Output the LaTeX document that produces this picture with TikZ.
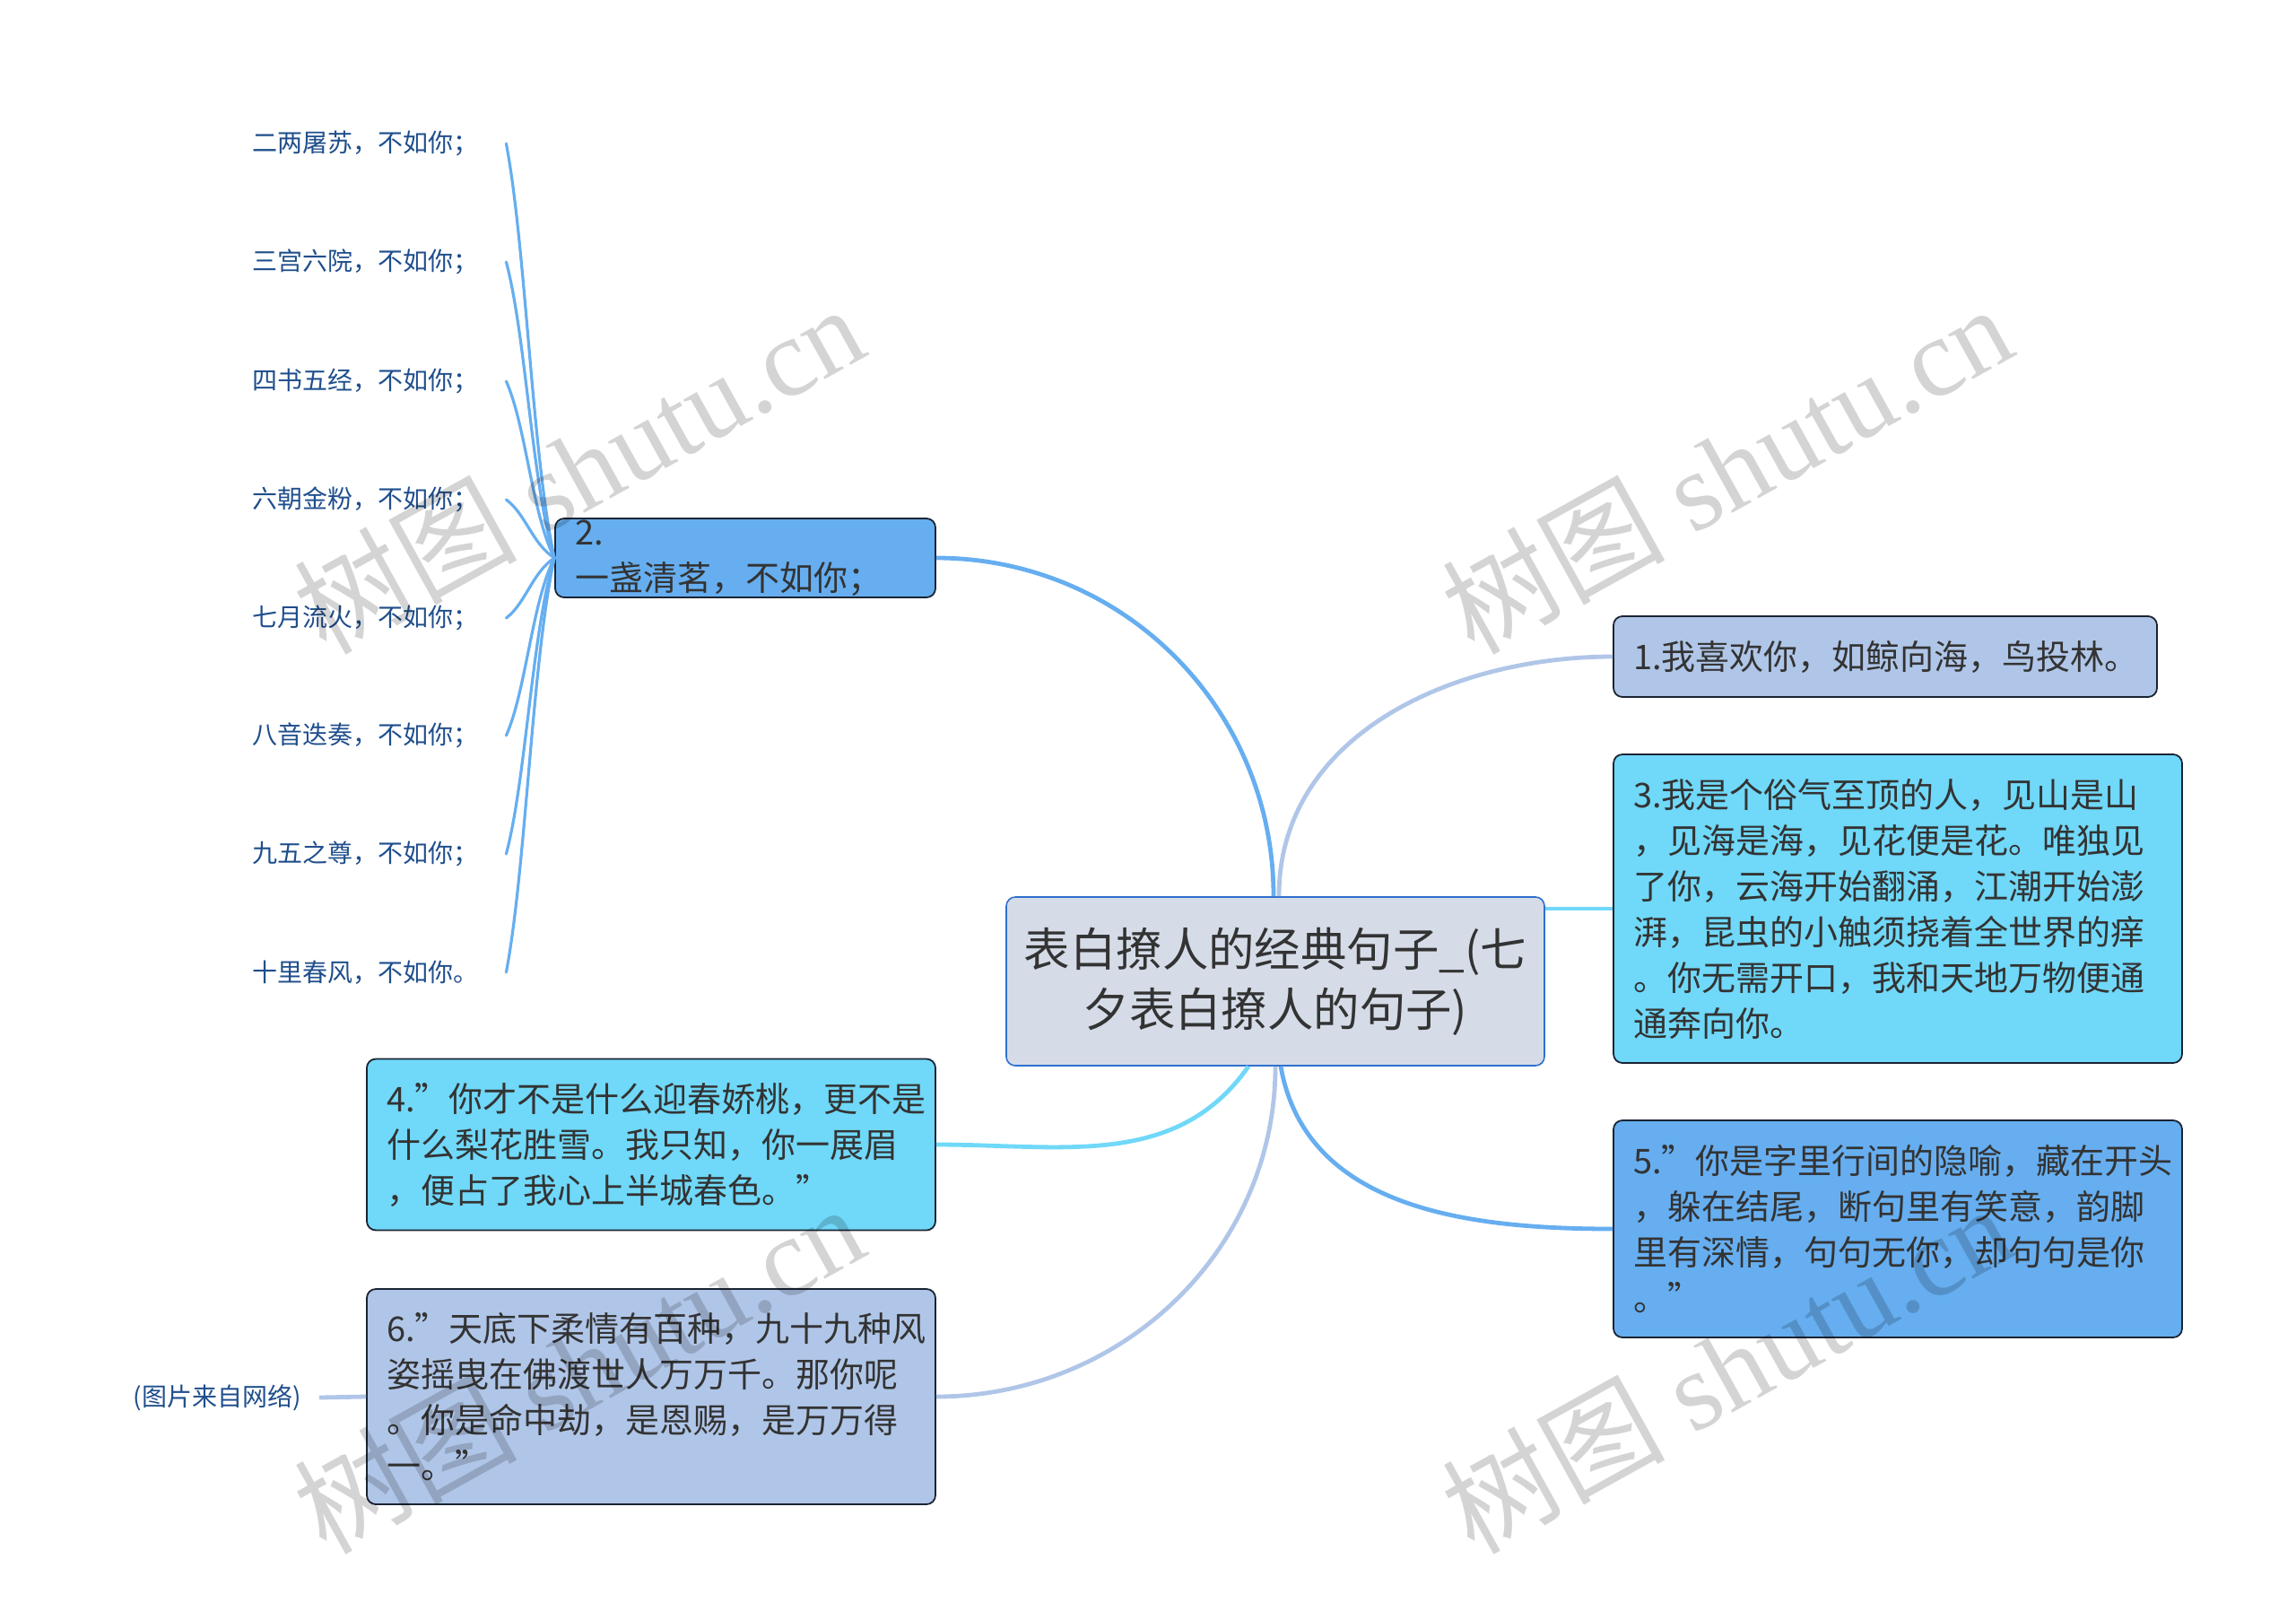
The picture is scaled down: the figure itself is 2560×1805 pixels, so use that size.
\documentclass[tikz,border=0pt]{standalone}
\usepackage{fontspec}
\usepackage{xcolor}
\setmainfont{Noto Sans CJK SC}
\newfontfamily\markfont{Liberation Serif}
\usetikzlibrary{positioning}
\definecolor{rootfill}{HTML}{D5DCE8}
\definecolor{rootline}{HTML}{2F6FCF}
\definecolor{pale}{HTML}{B0C6E8}
\definecolor{sky}{HTML}{70D8F8}
\definecolor{azure}{HTML}{66AEF0}
\definecolor{boxline}{HTML}{1A2433}
\definecolor{leaftext}{HTML}{1F4E8C}
\definecolor{bodytext}{HTML}{333333}
\tikzset{
rootbox/.style={draw=rootline,line width=0.8pt,fill=rootfill,rounded corners=5pt,align=center,text=bodytext,
  font=\fontsize{25.7}{33.5}\selectfont,text width=300pt,minimum height=94pt,inner sep=0pt},
topic/.style={draw=boxline,line width=0.9pt,rounded corners=5pt,align=left,text=bodytext,
  font=\fontsize{19}{25.5}\selectfont,inner xsep=11pt,inner ysep=0pt},
leaf/.style={align=left,text=leaftext,font=\fontsize{14}{17}\selectfont,inner sep=0pt},
link/.style={line width=2.4pt},
twig/.style={line width=1.6pt,color=azure,line cap=round},
wmark/.style={text=black,text opacity=0.17,rotate=29,font=\markfont\fontsize{62}{70}\selectfont,inner sep=0pt}
}
\begin{document}
\begin{tikzpicture}[x=0.5pt,y=-0.5pt]
\useasboundingbox (0,0) rectangle (2560,1805);
\node[rootbox] (root) at (1422,1094) {表白撩人的经典句子\_(七\\夕表白撩人的句子)};
\node[topic,fill=pale,text width=281pt,minimum height=45pt] (n1) at (2102,732) {1.我喜欢你，如鲸向海，鸟投林。};
\node[topic,fill=azure,text width=190pt,minimum height=44pt] (n2) at (831,622) {2. 一盏清茗，不如你；};
\node[topic,fill=sky,text width=295pt,minimum height=172pt] (n3) at (2116,1013) {3.我是个俗气至顶的人，见山是山\\，见海是海，见花便是花。唯独见\\了你，云海开始翻涌，江潮开始澎\\湃，昆虫的小触须挠着全世界的痒\\。你无需开口，我和天地万物便通\\通奔向你。};
\node[topic,fill=sky,text width=295pt,minimum height=95.5pt] (n4) at (726,1276) {4."你才不是什么迎春娇桃，更不是\\什么梨花胜雪。我只知，你一展眉\\，便占了我心上半城春色。"};
\node[topic,fill=azure,text width=295pt,minimum height=121pt] (n5) at (2116,1370) {5."你是字里行间的隐喻，藏在开头\\，躲在结尾，断句里有笑意，韵脚\\里有深情，句句无你，却句句是你\\。"};
\node[topic,fill=pale,text width=295pt,minimum height=120pt] (n6) at (726,1557) {6."天底下柔情有百种，九十九种风\\姿摇曳在佛渡世人万万千。那你呢\\。你是命中劫，是恩赐，是万万得\\一。"};
\node[leaf] (photo) at (242,1558) {(图片来自网络)};
\coordinate (photoend) at (356,1558);
\draw[link,color=pale] ([xshift=2pt]root.north) to[out=90,in=180] (n1.west);
\draw[link,color=azure] ([xshift=-1pt]root.north) to[out=90,in=0] (n2.east);
\draw[link,color=sky] (n3.west) -- (n3.west -| root.east);
\draw[link,color=sky] ([xshift=-15pt]root.south) to[out=-125,in=0] (n4.east);
\draw[link,color=azure] ([xshift=3pt]root.south) to[out=-80,in=180] (n5.west);
\draw[link,color=pale] (root.south) to[out=-90,in=0] (n6.east);
\draw[link,color=pale] (photoend) -- (n6.west);
\foreach \y/\txt [count=\i] in {160/二两屠苏，不如你；,292/三宫六院，不如你；,425/四书五经，不如你；,557/六朝金粉，不如你；,689/七月流火，不如你；,820/八音迭奏，不如你；,952/九五之尊，不如你；,1084/十里春风，不如你。} {
\node[leaf,text width=141.5pt] (leaf\i) at (422.5,\y) {\txt};
\pgfmathsetmacro{\d}{0.25*(622-\y)}
\draw[twig] (leaf\i.east) .. controls +(22,\d) and +(-25,-\d) .. (n2.west);
}
\foreach \x/\y [count=\i] in {645/522,1925/522,645/1525,1925/1525} {
\node[wmark] (wm\i) at (\x,\y) {{\setmainfont{Noto Sans CJK SC}\rmfamily 树图} shutu.cn};
}
\end{tikzpicture}
\end{document}
